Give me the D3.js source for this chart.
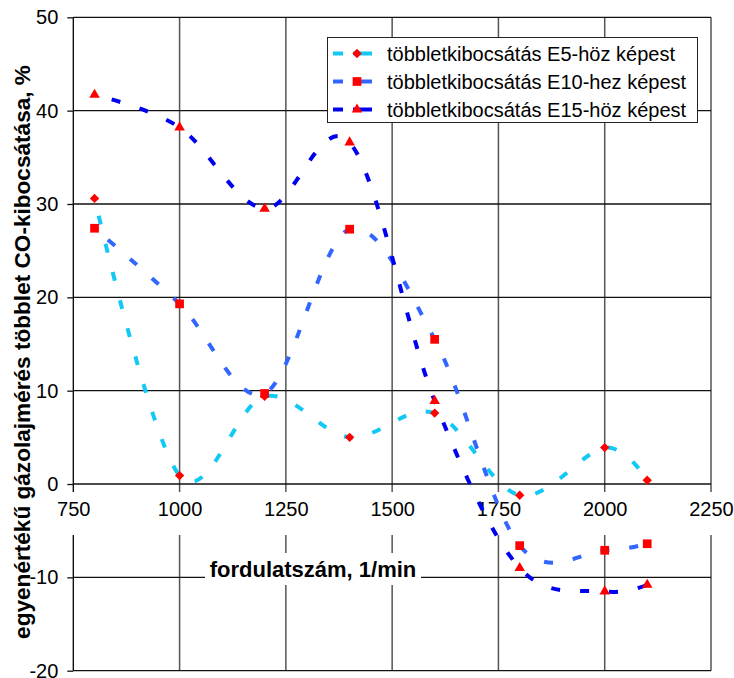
<!DOCTYPE html>
<html>
<head>
<meta charset="utf-8">
<script src="https://cdn.jsdelivr.net/npm/d3@7"></script>
<style>
  html, body { margin: 0; padding: 0; background: #fff; }
  svg { display: block; font-family: "Liberation Sans", Arial, sans-serif; }
</style>
</head>
<body>
<svg id="chart" width="734" height="678"></svg>
<script>
// Engine speed (1/min) and extra CO emission (%) of the equivalent diesel measurement
const rpm = [800, 1000, 1200, 1400, 1600, 1800, 2000, 2100];
const vsE5 = [30.6, 0.9, 9.4, 5.0, 7.6, -1.2, 3.9, 0.4];
const vsE10 = [27.4, 19.3, 9.7, 27.3, 15.5, -6.6, -7.1, -6.4];
const vsE15 = [41.7, 38.2, 29.5, 36.6, 8.9, -9.0, -11.5, -10.8];

const seriesNames = [
  "többletkibocsátás E5-höz képest",
  "többletkibocsátás E10-hez képest",
  "többletkibocsátás E15-höz képest"
];
const seriesColors = ["#12C8F5", "#3366FF", "#0000F0"];
const seriesSymbols = ["diamond", "square", "triangle"];

const xTicks = [750, 1000, 1250, 1500, 1750, 2000, 2250];
const yTicks = [-20, -10, 0, 10, 20, 30, 40, 50];
const xTitle = "fordulatszám, 1/min";
const yTitle = "egyenértékű gázolajmérés többlet CO-kibocsátása, %";

const series = [vsE5, vsE10, vsE15].map((vals, i) => ({
  name: seriesNames[i],
  color: seriesColors[i],
  symbol: seriesSymbols[i],
  points: rpm.map((r, j) => ({ x: r, y: vals[j] }))
}));

const svg = d3.select("#chart");
const plotL = 73.3, plotR = 711, plotT = 17.3, plotB = 670.7;

const x = d3.scaleLinear().domain([750, 2250]).range([plotL, plotR]);
const y = d3.scaleLinear().domain([-20, 50]).range([plotB, plotT]);

// plain hyphen for negative numbers
const fmt = d => String(d);

// gridlines
const grid = svg.append("g");
grid.selectAll("line.v").data(xTicks).join("line")
  .attr("x1", d => x(d)).attr("x2", d => x(d))
  .attr("y1", plotT).attr("y2", plotB)
  .attr("stroke", d => d === 750 ? "#000" : "#555")
  .attr("stroke-width", d => d === 750 ? 1.3 : 1.5);
grid.selectAll("line.h").data(yTicks).join("line")
  .attr("x1", plotL).attr("x2", plotR)
  .attr("y1", d => y(d)).attr("y2", d => y(d))
  .attr("stroke", "#111").attr("stroke-width", 1.3);

// y axis with outward ticks
const yAxis = svg.append("g")
  .attr("transform", `translate(${plotL},0)`)
  .call(d3.axisLeft(y).tickValues(yTicks).tickSize(6).tickPadding(9).tickFormat(fmt));
yAxis.select(".domain").remove();
yAxis.selectAll("line").attr("stroke", "#111").attr("stroke-width", 1.3);
yAxis.selectAll("text").attr("font-size", 20).attr("fill", "#000");

// x tick labels on the zero line, each on its own white plate
const xAxis = svg.append("g")
  .attr("transform", `translate(0,${y(0)})`)
  .call(d3.axisBottom(x).tickValues(xTicks).tickSize(0).tickPadding(18).tickFormat(fmt));
xAxis.select(".domain").remove();
xAxis.selectAll(".tick").insert("rect", "text")
  .attr("x", -25).attr("width", 50)
  .attr("y", 8).attr("height", 43)
  .attr("fill", "#fff");
xAxis.selectAll("text").attr("font-size", 20).attr("fill", "#000");

// x axis title
const xt = svg.append("g");
xt.append("rect").attr("x", 205).attr("y", 553).attr("width", 216).attr("height", 32).attr("fill", "#fff");
xt.append("text").attr("x", 313).attr("y", 577)
  .attr("text-anchor", "middle").attr("font-size", 22).attr("font-weight", "bold")
  .text(xTitle);

// y axis title
svg.append("text")
  .attr("transform", "translate(30,352) rotate(-90)")
  .attr("text-anchor", "middle").attr("font-size", 22.6).attr("font-weight", "bold")
  .text(yTitle);

// smoothed dashed lines
const line = d3.line()
  .x(d => x(d.x)).y(d => y(d.y))
  .curve(d3.curveCardinal.tension(0));

svg.append("g").selectAll("path").data(series).join("path")
  .attr("d", d => line(d.points))
  .attr("fill", "none")
  .attr("stroke", d => d.color)
  .attr("stroke-width", 4)
  .attr("stroke-dasharray", "9,20")
  .attr("stroke-dashoffset", 11);

// markers
const symbolPath = {
  diamond: d3.symbol().type(d3.symbolSquare).size(44)(),
  square: d3.symbol().type(d3.symbolSquare).size(76)(),
  triangle: d3.symbol().type(d3.symbolTriangle).size(48)()
};
const symbolRotate = { diamond: 45, square: 0, triangle: 0 };

series.forEach(s => {
  svg.append("g").selectAll("path").data(s.points).join("path")
    .attr("d", symbolPath[s.symbol])
    .attr("transform", d => `translate(${x(d.x)},${y(d.y)}) rotate(${symbolRotate[s.symbol]})`)
    .attr("fill", "#FF0000");
});

// legend
const lg = svg.append("g");
lg.append("rect").attr("x", 327.5).attr("y", 37.5).attr("width", 370).attr("height", 85)
  .attr("fill", "#fff").attr("stroke", "#222").attr("stroke-width", 1);
series.forEach((s, i) => {
  const cy = 53.5 + i * 28;
  const row = lg.append("g");
  row.append("line").attr("x1", 333).attr("x2", 343).attr("y1", cy).attr("y2", cy)
    .attr("stroke", s.color).attr("stroke-width", 4);
  row.append("line").attr("x1", 353).attr("x2", 372).attr("y1", cy).attr("y2", cy)
    .attr("stroke", s.color).attr("stroke-width", 4);
  row.append("path").attr("d", symbolPath[s.symbol])
    .attr("transform", `translate(357,${cy}) rotate(${symbolRotate[s.symbol]})`)
    .attr("fill", "#FF0000");
  row.append("text").attr("x", 387).attr("y", cy + 7.2)
    .attr("font-size", 20).attr("fill", "#000").text(s.name);
});
</script>
</body>
</html>
